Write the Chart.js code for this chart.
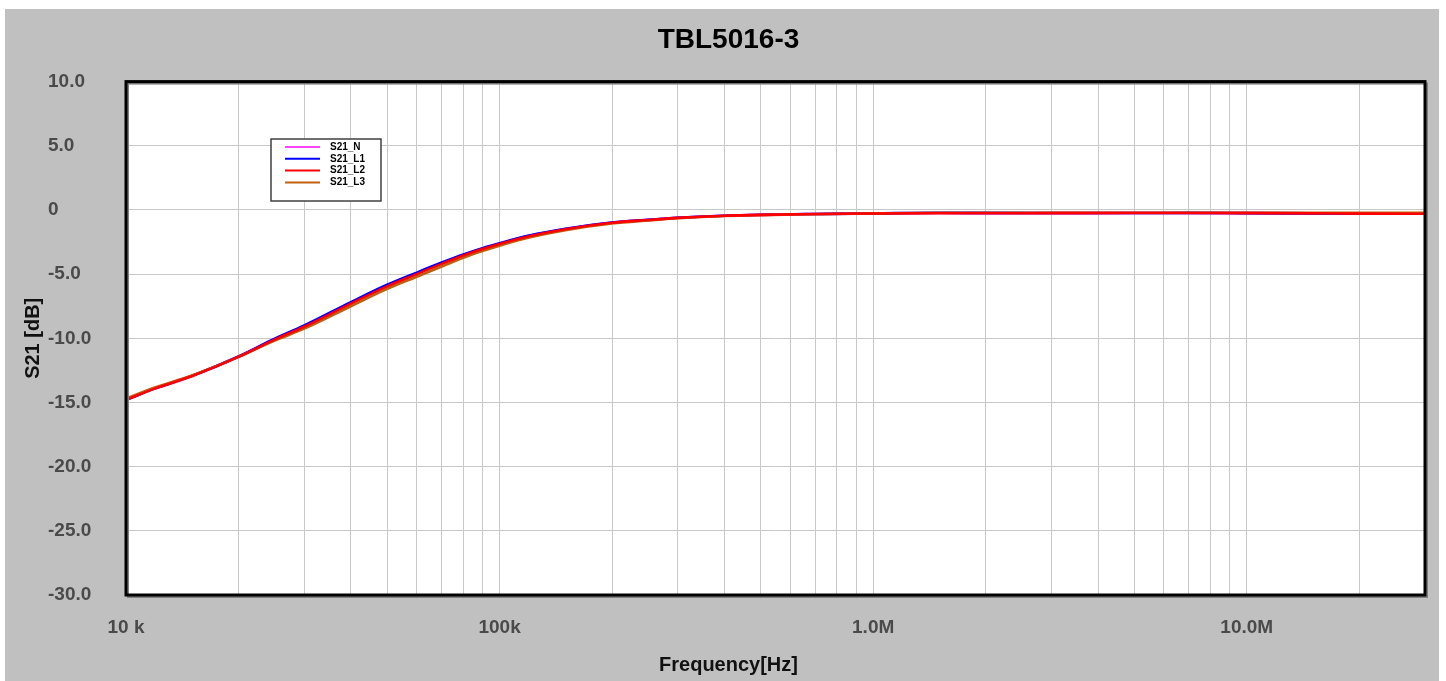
<!DOCTYPE html>
<html lang="en">
<head>
    <meta charset="UTF-8">
    <title>TBL5016-3</title>
    <style>
        body {
            margin: 0;
            background-color: #ffffff;
            font-family: 'Liberation Sans', Arial, sans-serif;
        }
        .chart-container {
            position: relative;
            width: 1446px;
            height: 681px;
        }
    </style>
</head>
<body>
    <div class="chart-container">
        <canvas id="s21Chart"></canvas>
    </div>

    <script src="https://cdn.jsdelivr.net/npm/chart.js"></script>
    <script>
        // frequency points (Hz)
        const freqs = [1e4, 1.2e4, 1.5e4, 2e4, 2.5e4, 3e4, 4e4, 5e4, 6e4, 7e4, 8e4, 9e4,
                       1e5, 1.2e5, 1.5e5, 2e5, 2.5e5, 3e5, 4e5, 5e5, 7e5,
                       1e6, 1.5e6, 2e6, 3e6, 5e6, 7e6, 1e7, 1.5e7, 2e7, 3e7];

        // S21 in dB for each trace
        const s21N  = [-14.79, -13.90, -12.94, -11.44, -10.07, -9.05, -7.24, -5.90, -4.94, -4.15, -3.50, -3.01,
                       -2.62, -2.02, -1.48, -0.99, -0.77, -0.61, -0.45, -0.38, -0.32,
                       -0.28, -0.24, -0.25, -0.25, -0.24, -0.24, -0.25, -0.27, -0.29, -0.30];
        const s21L1 = [-14.78, -13.88, -12.93, -11.42, -10.03, -9.00, -7.18, -5.83, -4.88, -4.10, -3.47, -2.98,
                       -2.60, -2.00, -1.47, -0.98, -0.77, -0.61, -0.45, -0.37, -0.31,
                       -0.27, -0.22, -0.23, -0.24, -0.24, -0.23, -0.25, -0.27, -0.28, -0.29];
        const s21L2 = [-14.80, -13.90, -12.95, -11.45, -10.10, -9.10, -7.30, -5.95, -5.00, -4.20, -3.55, -3.05,
                       -2.65, -2.05, -1.50, -1.00, -0.78, -0.62, -0.45, -0.38, -0.32,
                       -0.28, -0.26, -0.26, -0.25, -0.24, -0.24, -0.25, -0.27, -0.29, -0.30];
        const s21L3 = [-14.70, -13.82, -12.90, -11.45, -10.18, -9.25, -7.50, -6.15, -5.20, -4.40, -3.72, -3.20,
                       -2.78, -2.15, -1.58, -1.06, -0.82, -0.65, -0.47, -0.40, -0.33,
                       -0.27, -0.22, -0.22, -0.22, -0.22, -0.22, -0.22, -0.22, -0.22, -0.22];

        const seriesNames = ['S21_N', 'S21_L1', 'S21_L2', 'S21_L3'];
        const seriesColors = ['#ff44ff', '#0000ff', '#ff0000', '#c0600f'];

        // x grid: 1..9 per decade, labels only on decades
        const xTicks = [];
        for (let d = 1e4; d <= 1e7; d *= 10) {
            for (let m = 1; m <= 9; m++) {
                if (d * m <= 3e7) xTicks.push(d * m);
            }
        }
        const xTickLabels = { 1e4: '10 k', 1e5: '100k', 1e6: '1.0M', 1e7: '10.0M' };
        const yTicks = [10, 5, 0, -5, -10, -15, -20, -25, -30];

        function toPoints(vals) {
            return freqs.map((f, i) => ({ x: f, y: vals[i] }));
        }

        // gray panel, white plot area, frame and inner legend
        const framePlugin = {
            id: 'framePlugin',
            beforeDraw(chart) {
                const ctx = chart.ctx;
                const a = chart.chartArea;
                ctx.save();
                ctx.fillStyle = '#c0c0c0';
                ctx.fillRect(5, 9, 1434, 672);
                ctx.fillStyle = '#ffffff';
                ctx.fillRect(a.left, a.top, a.right - a.left, a.bottom - a.top);
                ctx.restore();
            },
            afterDraw(chart) {
                const ctx = chart.ctx;
                const a = chart.chartArea;
                ctx.save();
                // frame shadow + frame
                ctx.strokeStyle = '#808080';
                ctx.lineWidth = 2;
                ctx.strokeRect(a.left + 2, a.top + 2, a.right - a.left, a.bottom - a.top);
                ctx.strokeStyle = '#000000';
                ctx.lineWidth = 3;
                ctx.strokeRect(a.left, a.top, a.right - a.left, a.bottom - a.top);

                // legend box
                const lx = 271, ly = 139, lw = 110, lh = 62;
                ctx.fillStyle = '#ffffff';
                ctx.fillRect(lx, ly, lw, lh);
                ctx.strokeStyle = '#404040';
                ctx.lineWidth = 1.5;
                ctx.strokeRect(lx, ly, lw, lh);
                ctx.font = 'bold 10px "Liberation Sans", Arial, sans-serif';
                ctx.textBaseline = 'middle';
                chart.data.datasets.forEach((ds, i) => {
                    const y = ly + 8 + i * 11.8;
                    ctx.strokeStyle = ds.borderColor;
                    ctx.lineWidth = 2;
                    ctx.beginPath();
                    ctx.moveTo(285, y);
                    ctx.lineTo(320, y);
                    ctx.stroke();
                    ctx.fillStyle = '#000000';
                    ctx.fillText(ds.label, 330, y);
                });
                ctx.restore();
            }
        };

        const ctx = document.getElementById('s21Chart').getContext('2d');
        const drawOrder = [4, 3, 1, 2];
        const allValues = [s21N, s21L1, s21L2, s21L3];
        const axisFont = { family: '"Liberation Sans", Arial', size: 19, weight: 'bold' };
        const titleFont = { family: '"Liberation Sans", Arial', size: 20, weight: 'bold' };

        const chart = new Chart(ctx, {
            type: 'line',
            data: {
                datasets: seriesNames.map((name, i) => ({
                    label: name,
                    data: toPoints(allValues[i]),
                    borderColor: seriesColors[i],
                    backgroundColor: seriesColors[i],
                    borderWidth: 2.6,
                    pointRadius: 0,
                    cubicInterpolationMode: 'monotone',
                    order: drawOrder[i]
                }))
            },
            options: {
                responsive: true,
                maintainAspectRatio: false,
                animation: false,
                layout: { padding: { left: 20, right: 9, top: 9, bottom: 0 } },
                plugins: {
                    legend: { display: false },
                    tooltip: { enabled: false },
                    title: {
                        display: true,
                        text: 'TBL5016-3',
                        color: '#000000',
                        font: { family: '"Liberation Sans", Arial', size: 28, weight: 'bold' },
                        padding: { top: 14, bottom: 25 }
                    },
                    subtitle: {
                        display: true,
                        position: 'bottom',
                        text: 'Frequency[Hz]',
                        color: '#111111',
                        font: titleFont,
                        padding: { top: 0, bottom: 4 }
                    }
                },
                scales: {
                    x: {
                        type: 'logarithmic',
                        min: 1e4,
                        max: 3e7,
                        afterBuildTicks(scale) {
                            scale.ticks = xTicks.map(v => ({ value: v }));
                        },
                        afterFit(scale) {
                            scale.height = 58;
                        },
                        ticks: {
                            autoSkip: false,
                            maxRotation: 0,
                            padding: 21,
                            color: '#4a4a4a',
                            font: axisFont,
                            callback: (v) => xTickLabels[v] || ''
                        },
                        grid: { color: '#c8c8c8', lineWidth: 1, drawTicks: false },
                        border: { display: false }
                    },
                    y: {
                        min: -30,
                        max: 10,
                        weight: 0,
                        afterBuildTicks(scale) {
                            scale.ticks = yTicks.map(v => ({ value: v }));
                        },
                        afterFit(scale) {
                            scale.width = 78;
                        },
                        ticks: {
                            crossAlign: 'far',
                            color: '#4a4a4a',
                            font: axisFont
                            , callback: (v) => v === 0 ? '0' : v.toFixed(1)
                        },
                        grid: { color: '#c8c8c8', lineWidth: 1, drawTicks: false },
                        border: { display: false }
                    },
                    // holds only the vertical axis title, left of the tick labels
                    yTitle: {
                        type: 'linear',
                        position: 'left',
                        min: -30,
                        max: 10,
                        weight: 1,
                        afterFit(scale) {
                            scale.width = 28;
                        },
                        ticks: { display: false },
                        grid: { display: false },
                        border: { display: false },
                        title: {
                            display: true,
                            text: 'S21 [dB]',
                            color: '#111111',
                            font: titleFont,
                            padding: { top: 1, bottom: 0 }
                        }
                    }
                }
            },
            plugins: [framePlugin]
        });
    </script>
</body>
</html>
